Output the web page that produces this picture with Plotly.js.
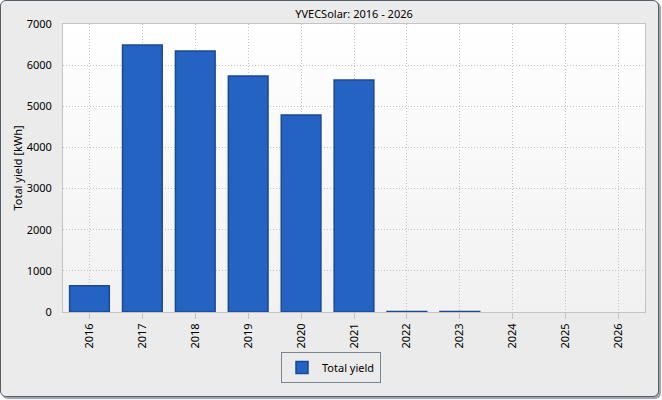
<!DOCTYPE html>
<html>
<head>
<meta charset="utf-8">
<script src="https://cdn.plot.ly/plotly-3.0.1.min.js"></script>
<style>
  html, body { margin: 0; padding: 0; background: #ffffff; }
  #frame {
    position: absolute; left: 0; top: 0; width: 657px; height: 395px;
    border: 1px solid #56606a; border-radius: 6px; background: #ebebeb;
    box-shadow: 2px 2px 1px #9aa0a6; overflow: hidden;
  }
  #plotbg {
    position: absolute; left: 63px; top: 24px; width: 582px; height: 288px;
    background: linear-gradient(to bottom, #ffffff 0%, #f1f1f1 100%);
  }
  #chart { position: absolute; left: 0; top: 0; width: 662px; height: 400px; }
</style>
</head>
<body>
<div id="frame"></div>
<div id="plotbg"></div>
<div id="chart"></div>
<script>
const years = ['2016','2017','2018','2019','2020','2021','2022','2023','2024','2025','2026'];
const totalYield = [640, 6490, 6345, 5736, 4788, 5640, 15, 12, null, null, null];
const yTicks = [0, 1000, 2000, 3000, 4000, 5000, 6000, 7000];
const seriesName = 'Total yield';
const chartTitle = 'YVECSolar: 2016 - 2026';
const yTitle = 'Total yield [kWh]';

const font = {family: 'Noto Sans, Liberation Sans, sans-serif', size: 11, color: '#000000'};

const data = [{
  type: 'bar',
  x: years,
  y: totalYield,
  name: seriesName,
  showlegend: true,
  marker: {color: '#2463c1', line: {color: '#1a4894', width: 1.5}}
}];

const layout = {
  width: 662, height: 400,
  margin: {l: 63, r: 17, t: 24, b: 88, autoexpand: false},
  paper_bgcolor: 'rgba(0,0,0,0)',
  plot_bgcolor: 'rgba(0,0,0,0)',
  font: font,
  bargap: 0.25,
  title: {text: chartTitle, font: {family: font.family, size: 11, color: '#000'}, x: 0.5, xanchor: 'center', y: 1, yref: 'paper', yanchor: 'bottom', pad: {b: 6}, xref: 'paper'},
  xaxis: {
    type: 'category',
    categoryorder: 'array', categoryarray: years,
    tickangle: -90,
    showgrid: true, gridcolor: '#c4c4c4', griddash: '1px,2px', gridwidth: 1,
    ticks: 'outside', ticklen: 6, tickcolor: '#c4c4c4',
    showline: true, linecolor: '#c4c4c4', linewidth: 1, mirror: true,
    tickfont: font,
    zeroline: false,
    fixedrange: true
  },
  yaxis: {
    range: [0, 7000],
    tickvals: yTicks,
    ticktext: yTicks.map(String),
    showgrid: true, gridcolor: '#c4c4c4', griddash: '1px,2px', gridwidth: 1,
    showline: true, linecolor: '#c4c4c4', linewidth: 1, mirror: true,
    ticks: '', ticklabelstandoff: 8,
    tickfont: font,
    zeroline: false,
    title: {text: yTitle, font: font, standoff: 1}
  },
  legend: {
    orientation: 'h',
    x: 0.4605, xanchor: 'center',
    y: -0.139, yanchor: 'top',
    bgcolor: 'rgba(0,0,0,0)',
    bordercolor: '#7a8590', borderwidth: 1,
    font: font,
    itemwidth: 30
  }
};

Plotly.newPlot('chart', data, layout, {displayModeBar: false, staticPlot: true});
</script>
</body>
</html>
